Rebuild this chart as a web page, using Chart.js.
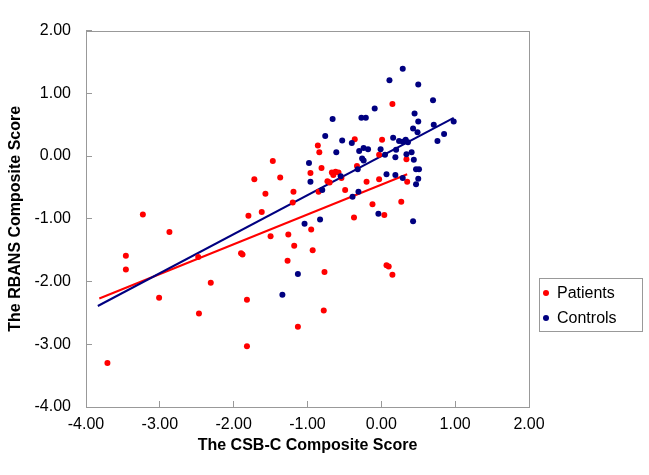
<!DOCTYPE html>
<html>
<head>
<meta charset="utf-8">
<script src="https://cdn.jsdelivr.net/npm/chart.js@4"></script>
<style>
  body { margin: 0; background: #fff; }
  #wrap { position: relative; width: 649px; height: 475px; }
  #legend {
    position: absolute; left: 539px; top: 278px; width: 102px; height: 52px;
    border: 1px solid #999; font: 16px "Liberation Sans", Arial, sans-serif; color: #000;
  }
  #legend .row { position: absolute; left: 0; height: 20px; line-height: 20px; white-space: nowrap; }
  #legend .dot { position: absolute; left: 3px; top: 7px; width: 6px; height: 6px; border-radius: 50%; }
  #legend .lbl { position: absolute; left: 17px; top: 0; }
</style>
</head>
<body>
<div id="wrap">
  <canvas id="chart" width="649" height="475"></canvas>
  <div id="legend">
    <div class="row" style="top:4px"><span class="dot" style="background:#ff0000"></span><span class="lbl">Patients</span></div>
    <div class="row" style="top:29px"><span class="dot" style="background:#000080"></span><span class="lbl">Controls</span></div>
  </div>
</div>
<script>
// values
const patientsX = [-3.71, -3.46, -3.46, -3.23, -2.87, -3.01, -2.31, -2.47, -2.48, -1.80,
  -1.62, -1.90, -1.88, -1.82, -1.82, -1.50, -1.26, -1.18, -1.27, -1.13,
  -0.95, -0.93, -0.77, -0.78, -0.37, 0.04, 0.07, 0.10, 0.15, -0.86,
  -0.84, -1.47, -1.72, -1.37, -0.96, -0.81, -0.67, -0.65, -0.58, -0.54,
  -0.73, -0.70, -1.57, -1.19, -1.20, -0.85, -0.49, 0.15, -0.36, 0.01,
  -0.03, 0.34, -0.20, -0.03, 0.35, -0.12, 0.27, -0.33, -0.62];
const patientsY = [-3.30, -1.59, -1.81, -0.93, -1.21, -2.26, -2.02, -2.51, -1.61, -0.95,
  -0.89, -1.55, -1.57, -2.29, -3.03, -1.28, -1.25, -1.43, -1.67, -2.72,
  -1.17, -1.50, -1.85, -2.46, -0.98, -0.94, -1.74, -1.76, -1.89, 0.17,
  0.06, -0.08, -0.37, -0.34, -0.27, -0.19, -0.26, -0.30, -0.26, -0.35,
  -0.40, -0.42, -0.60, -0.57, -0.74, -0.57, -0.54, 0.83, 0.27, 0.26,
  0.02, -0.05, -0.41, -0.37, -0.41, -0.77, -0.73, -0.16, -0.25];

const controlsX = [-1.04, -1.13, -1.34, -0.83, -0.04, 0.43, -0.66, -0.76, -0.53, -0.61,
  -0.98, -0.96, -0.80, -0.55, 0.29, 0.11, 0.50, 0.70, -0.09, -0.27,
  -0.21, 0.45, 0.50, 0.43, 0.71, 0.98, 0.85, 0.76, 0.49, -0.40,
  0.16, 0.24, 0.29, 0.33, 0.36, 0.41, 0.34, -0.30, -0.24, -0.18,
  -0.01, 0.20, 0.05, 0.19, -0.26, -0.24, 0.44, 0.47, 0.51, -0.32,
  0.07, 0.19, 0.29, 0.50, 0.47, -0.31, -0.39];
const controlsY = [-1.08, -1.88, -2.21, -1.01, -0.92, -1.04, 0.59, 0.32, 0.25, 0.06,
  -0.11, -0.41, -0.54, -0.32, 1.39, 1.21, 1.14, 0.89, 0.76, 0.61,
  0.61, 0.68, 0.55, 0.44, 0.50, 0.55, 0.35, 0.24, 0.38, 0.21,
  0.29, 0.24, 0.23, 0.26, 0.22, 0.06, 0.03, 0.08, 0.13, 0.11,
  0.11, 0.10, 0.02, -0.02, -0.04, -0.07, -0.06, -0.21, -0.21, -0.21,
  -0.29, -0.30, -0.35, -0.36, -0.45, -0.57, -0.65];

// fitted lines, end points
const patientsFitX = [-3.82, 0.35];
const patientsFitY = [-2.27, -0.29];
const controlsFitX = [-3.84, 0.98];
const controlsFitY = [-2.39, 0.61];

const axisTicks = [-4, -3, -2, -1, 0, 1, 2];

const RED = '#ff0000';
const NAVY = '#000080';
const GREY = '#999999';
const FONT = '"Liberation Sans", Arial, sans-serif';

function pairs(xs, ys) {
  return xs.map((x, i) => ({ x: x, y: ys[i] }));
}

// box round the plot area
const frame = {
  id: 'frame',
  afterDraw(chart) {
    const a = chart.chartArea;
    const ctx = chart.ctx;
    ctx.save();
    ctx.strokeStyle = GREY;
    ctx.lineWidth = 1;
    ctx.strokeRect(Math.round(a.left) + 0.5, Math.round(a.top) + 0.5,
      Math.round(a.right - a.left), Math.round(a.bottom - a.top));
    ctx.restore();
  }
};

function axis(title, isX) {
  return {
    type: 'linear',
    min: -4,
    max: 2,
    afterBuildTicks: s => { s.ticks = axisTicks.map(v => ({ value: v })); },
    afterFit: s => {
      if (isX) s.height = 68; else s.width = 86;
    },
    grid: { display: true, drawOnChartArea: false, drawTicks: true, tickLength: -6, color: GREY },
    border: { display: true, color: GREY },
    ticks: {
      color: '#000',
      font: { family: FONT, size: 16 },
      padding: isX ? 14 : 21,
      callback: v => v.toFixed(2)
    },
    title: {
      display: true,
      text: title,
      color: '#000',
      font: { family: FONT, size: 16, weight: 'bold' },
      padding: isX ? { top: 0, bottom: 20 } : { top: 6, bottom: 6 }
    }
  };
}

new Chart(document.getElementById('chart'), {
  type: 'scatter',
  data: {
    datasets: [
      {
        label: 'Patients',
        data: pairs(patientsX, patientsY),
        backgroundColor: RED,
        borderColor: RED,
        pointRadius: 3,
        borderWidth: 0,
        order: 1
      },
      {
        label: 'Controls',
        data: pairs(controlsX, controlsY),
        backgroundColor: NAVY,
        borderColor: NAVY,
        pointRadius: 3,
        borderWidth: 0,
        order: 0
      },
      {
        label: 'Patients fit',
        data: pairs(patientsFitX, patientsFitY),
        showLine: true,
        borderColor: RED,
        borderWidth: 2,
        pointRadius: 0,
        order: 3
      },
      {
        label: 'Controls fit',
        data: pairs(controlsFitX, controlsFitY),
        showLine: true,
        borderColor: NAVY,
        borderWidth: 2,
        pointRadius: 0,
        order: 2
      }
    ]
  },
  options: {
    responsive: false,
    animation: false,
    layout: { padding: { top: 11, right: 120, left: 0, bottom: 0 } },
    plugins: {
      legend: { display: false },
      tooltip: { enabled: false }
    },
    scales: {
      x: axis('The CSB-C Composite Score', true),
      y: axis('The RBANS Composite Score', false)
    }
  },
  plugins: [frame]
});
</script>
</body>
</html>
